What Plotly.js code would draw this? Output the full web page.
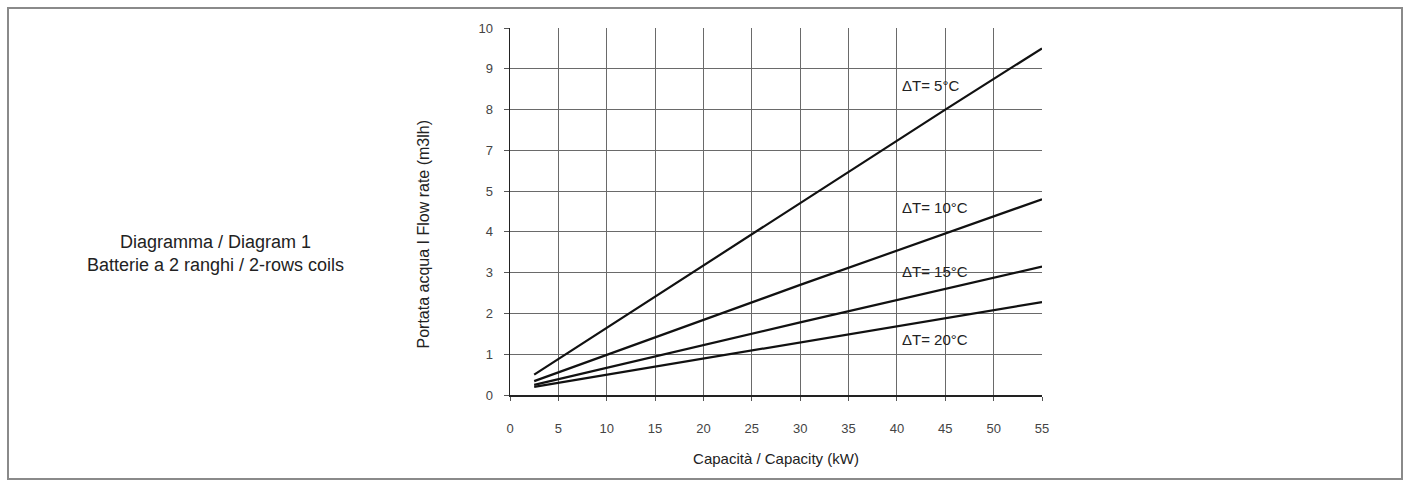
<!DOCTYPE html>
<html>
<head>
<meta charset="utf-8">
<script src="https://cdn.plot.ly/plotly-3.0.1.min.js"></script>
<style>
  html, body { margin: 0; padding: 0; background: #ffffff; }
  #wrap { position: relative; width: 1408px; height: 484px; }
  #chart { position: absolute; left: 0; top: 0; width: 1408px; height: 484px; }
  #frame { position: absolute; left: 7px; top: 7px; width: 1392px; height: 469px;
           border: 2px solid #8a8a8a; pointer-events: none; }
</style>
</head>
<body>
<div id="wrap">
  <div id="chart"></div>
  <div id="frame"></div>
</div>
<script>
// ---- data ----
const xTickLabels = [0, 5, 10, 15, 20, 25, 30, 35, 40, 45, 50, 55];
// the printed y axis skips "6": ten evenly spaced gridlines labelled like this
const yTickLabels = [0, 1, 2, 3, 4, 5, 7, 8, 9, 10];

const capDT5  = [2.5, 30, 45, 55];
const flowDT5 = [0.5, 4.7, 8.0, 9.5];

const capDT10  = [2.5, 30, 55];
const flowDT10 = [0.34, 2.7, 4.8];

const capDT15  = [2.5, 30, 55];
const flowDT15 = [0.25, 1.78, 3.15];

const capDT20  = [2.5, 30, 55];
const flowDT20 = [0.2, 1.28, 2.28];

const seriesNames = ['ΔT= 5°C', 'ΔT= 10°C', 'ΔT= 15°C', 'ΔT= 20°C'];
const labelCap  = [40.3, 40.3, 40.3, 40.3];
const labelFlow = [8.6, 4.6, 3.04, 1.35];

const sideText = ['Diagramma / Diagram 1', 'Batterie a 2 ranghi / 2-rows coils'];

// map a printed value onto the evenly spaced gridline position
function toPos(v) {
  for (let i = 0; i < yTickLabels.length - 1; i++) {
    const a = yTickLabels[i], b = yTickLabels[i + 1];
    if (v >= a && v <= b) return i + (v - a) / (b - a);
  }
  return yTickLabels.length - 1;
}

const FONT = 'Liberation Sans, Arial, sans-serif';
const lineStyle = { color: '#111111', width: 2.2 };
const mk = (x, y, name) => ({
  x: x, y: y.map(toPos), name: name, type: 'scatter', mode: 'lines',
  line: lineStyle, hoverinfo: 'skip', showlegend: false
});

const traces = [
  mk(capDT5, flowDT5, seriesNames[0]),
  mk(capDT10, flowDT10, seriesNames[1]),
  mk(capDT15, flowDT15, seriesNames[2]),
  mk(capDT20, flowDT20, seriesNames[3])
];

const annotations = seriesNames.map((t, i) => ({
  x: labelCap[i], y: toPos(labelFlow[i]), xref: 'x', yref: 'y',
  text: t, showarrow: false, xanchor: 'left', yanchor: 'middle',
  font: { family: FONT, size: 15, color: '#222' }
}));

// side caption (two lines)
annotations.push({
  xref: 'paper', yref: 'paper', x: -0.5545, y: 0.386, xanchor: 'center', yanchor: 'middle',
  text: sideText.join('<br>'), showarrow: false, align: 'center',
  font: { family: FONT, size: 18, color: '#222' }
});

// y-axis title, placed like the reference (slightly below plot centre)
annotations.push({
  xref: 'paper', yref: 'paper', x: -0.1617, y: 0.44, xanchor: 'center', yanchor: 'middle',
  text: 'Portata acqua I Flow rate (m3lh)', showarrow: false, textangle: -90,
  font: { family: FONT, size: 16, color: '#222' }
});

const fontTick = { family: FONT, size: 13, color: '#444' };

const layout = {
  width: 1408, height: 484,
  margin: { l: 510, r: 366, t: 28, b: 89, pad: 0 },
  paper_bgcolor: '#ffffff', plot_bgcolor: '#ffffff',
  showlegend: false,
  xaxis: {
    range: [0, 55], tickvals: xTickLabels, ticktext: xTickLabels.map(String),
    showgrid: true, gridcolor: '#6a6a6a', gridwidth: 1,
    showline: true, linecolor: '#222', linewidth: 1.5, mirror: false,
    ticks: 'outside', ticklen: 4, tickcolor: '#555', tickwidth: 1,
    ticklabelstandoff: 17,
    zeroline: false, tickfont: fontTick,
    title: { text: 'Capacità / Capacity (kW)', standoff: 18,
             font: { family: FONT, size: 15, color: '#222' } }
  },
  yaxis: {
    range: [0, 9], tickvals: yTickLabels.map((v, i) => i), ticktext: yTickLabels.map(String),
    showgrid: true, gridcolor: '#6a6a6a', gridwidth: 1,
    showline: true, linecolor: '#222', linewidth: 1.5,
    ticks: 'outside', ticklen: 5, tickcolor: '#555', tickwidth: 1,
    ticklabelstandoff: 8,
    zeroline: false, tickfont: fontTick
  },
  annotations: annotations
};

Plotly.newPlot('chart', traces, layout, { displayModeBar: false, staticPlot: true });
</script>
</body>
</html>
